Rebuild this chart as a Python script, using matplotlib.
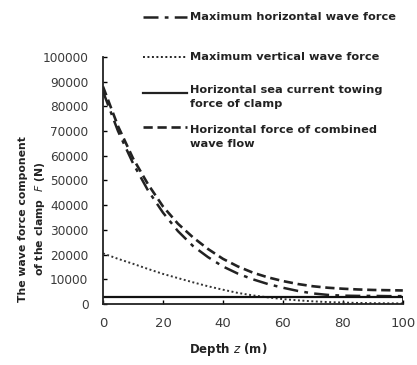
import numpy as np
import matplotlib.pyplot as plt
from matplotlib.lines import Line2D

# depth below surface (m)
depth = [0, 5, 10, 15, 20, 25, 30, 35, 40, 45, 50, 55, 60, 65, 70, 75, 80, 85, 90, 95, 100]

# force components (N)
max_horizontal = [86000, 70000, 57000, 46000, 37000, 29500, 23500, 19000, 15200, 12300, 10000,
                  8100, 6600, 5300, 4300, 3700, 3400, 3300, 3300, 3200, 3200]
max_vertical = [20500, 18300, 16300, 14200, 12200, 10500, 8800, 7200, 5800, 4500, 3500,
                2700, 2000, 1500, 1100, 800, 600, 450, 350, 300, 250]
current_tow = [3000] * len(depth)
combined = [88000, 72000, 59000, 48500, 39500, 32500, 27000, 22300, 18300, 15200, 12700,
            10800, 9300, 8100, 7200, 6600, 6200, 5900, 5700, 5600, 5500]

labels = ["Maximum horizontal wave force",
          "Maximum vertical wave force",
          "Horizontal sea current towing\nforce of clamp",
          "Horizontal force of combined\nwave flow"]

fig = plt.figure(figsize=(4.17, 3.65), dpi=100)
ax = fig.add_axes([0.247, 0.167, 0.719, 0.677])

dashdot = (0, (6, 2.5, 1.5, 2.5))
dotted = (0, (1, 1.3))
dashed = (0, (3.5, 1.8))

ax.plot(depth, max_horizontal, color="#222222", lw=1.8, ls=dashdot)
ax.plot(depth, max_vertical, color="#333333", lw=1.4, ls=dotted)
ax.plot(depth, current_tow, color="#111111", lw=1.6, ls="-")
ax.plot(depth, combined, color="#222222", lw=1.9, ls=dashed)
ax.vlines(depth[-1], 0, current_tow[-1], color="#111111", lw=1.2)

ax.set_xlim(0, 100)
ax.set_ylim(0, 100000)
ax.set_xticks([0, 20, 40, 60, 80, 100])
ax.set_yticks(np.arange(0, 100001, 10000))
ax.tick_params(direction="in", length=3, width=1, labelcolor="#3a3a3a")
ax.tick_params(axis="y", pad=10.5, labelsize=8.7)
ax.tick_params(axis="x", pad=9, labelsize=9.5)
for s in ["top", "right"]:
    ax.spines[s].set_visible(False)
for s in ["left", "bottom"]:
    ax.spines[s].set_linewidth(1.3)
    ax.spines[s].set_color("#222222")

fig.text(0.547, 0.02, "Depth $z$ (m)", ha="center", va="bottom",
         fontsize=8.5, fontweight="bold", color="#222222")
fig.text(0.078, 0.40, "The wave force component\nof the clamp  $F$ (N)",
         rotation=90, ha="center", va="center", fontsize=7.8,
         fontweight="bold", color="#222222", linespacing=1.55)

# legend drawn in figure pixels
W, H = 417, 365
styles = [(dashdot, 1.8), (dotted, 1.4), ("-", 1.6), (dashed, 1.9)]
handle_y = [17, 57, 93, 127]
text_y = [17, 57, 96.5, 136.5]
for (ls, lw), hy, ty, lab in zip(styles, handle_y, text_y, labels):
    fig.add_artist(Line2D([143 / W, 187 / W], [1 - hy / H, 1 - hy / H],
                          transform=fig.transFigure, color="#222222", lw=lw, ls=ls))
    fig.text(190 / W, 1 - ty / H, lab, ha="left", va="center", fontsize=8.2,
             fontweight="bold", color="#222222", linespacing=1.5)

fig.savefig("out.png", dpi=100)
